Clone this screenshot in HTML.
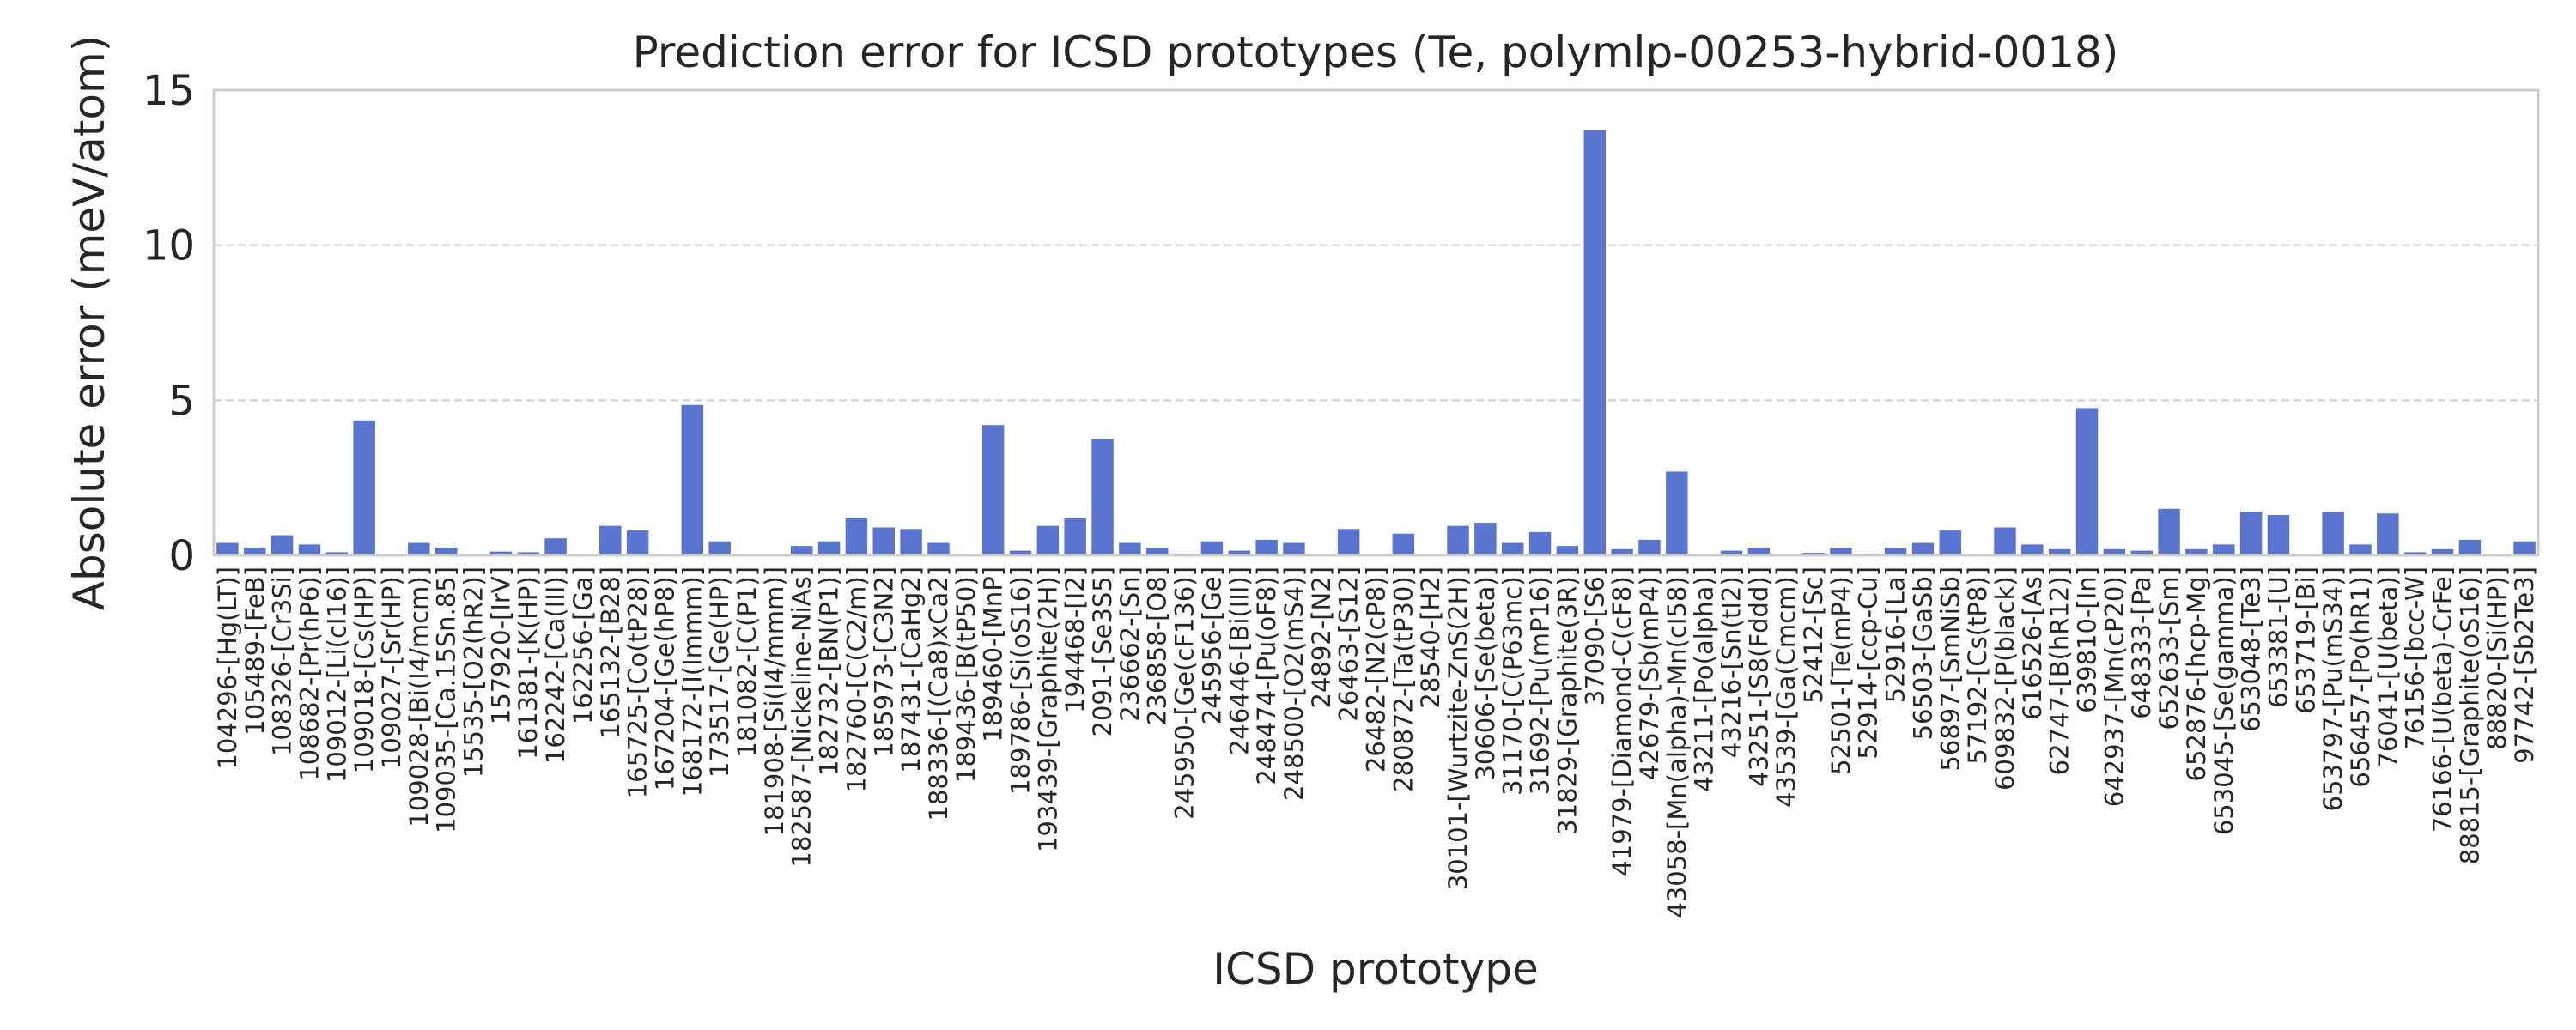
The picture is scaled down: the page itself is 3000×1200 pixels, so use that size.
<!DOCTYPE html>
<html><head><meta charset="utf-8"><style>
html,body{margin:0;padding:0;background:#fff;}
svg{display:block;font-family:"DejaVu Sans","Liberation Sans",sans-serif;}
</style></head><body>
<svg id="chart" width="3000" height="1200" viewBox="0 0 3000 1200" xmlns="http://www.w3.org/2000/svg">
<rect width="3000" height="1200" fill="#fff"/>
<text x="1602" y="78" text-anchor="middle" font-size="50" fill="#262626">Prediction error for ICSD prototypes (Te, polymlp-00253-hybrid-0018)</text>
<text transform="translate(121,376) rotate(-90)" text-anchor="middle" font-size="50" fill="#262626">Absolute error (meV/atom)</text>
<text x="1602" y="1146" text-anchor="middle" font-size="50" fill="#262626">ICSD prototype</text>
<g id="grid"></g><g id="bars"></g><g id="yticks"></g><g id="xticks"></g>
<rect x="249" y="105" width="2707" height="542" fill="none" stroke="#cccccc" stroke-width="3"/>
</svg>
<script>
const categories = ["104296-[Hg(LT)]","105489-[FeB]","108326-[Cr3Si]","108682-[Pr(hP6)]","109012-[Li(cI16)]","109018-[Cs(HP)]","109027-[Sr(HP)]","109028-[Bi(I4/mcm)]","109035-[Ca.15Sn.85]","15535-[O2(hR2)]","157920-[IrV]","161381-[K(HP)]","162242-[Ca(III)]","162256-[Ga]","165132-[B28]","165725-[Co(tP28)]","167204-[Ge(hP8)]","168172-[I(Immm)]","173517-[Ge(HP)]","181082-[C(P1)]","181908-[Si(I4/mmm)]","182587-[Nickeline-NiAs]","182732-[BN(P1)]","182760-[C(C2/m)]","185973-[C3N2]","187431-[CaHg2]","188336-[(Ca8)xCa2]","189436-[B(tP50)]","189460-[MnP]","189786-[Si(oS16)]","193439-[Graphite(2H)]","194468-[I2]","2091-[Se3S5]","236662-[Sn]","236858-[O8]","245950-[Ge(cF136)]","245956-[Ge]","246446-[Bi(III)]","248474-[Pu(oF8)]","248500-[O2(mS4)]","24892-[N2]","26463-[S12]","26482-[N2(cP8)]","280872-[Ta(tP30)]","28540-[H2]","30101-[Wurtzite-ZnS(2H)]","30606-[Se(beta)]","31170-[C(P63mc)]","31692-[Pu(mP16)]","31829-[Graphite(3R)]","37090-[S6]","41979-[Diamond-C(cF8)]","42679-[Sb(mP4)]","43058-[Mn(alpha)-Mn(cI58)]","43211-[Po(alpha)]","43216-[Sn(tI2)]","43251-[S8(Fddd)]","43539-[Ga(Cmcm)]","52412-[Sc]","52501-[Te(mP4)]","52914-[ccp-Cu]","52916-[La]","56503-[GaSb]","56897-[SmNiSb]","57192-[Cs(tP8)]","609832-[P(black)]","616526-[As]","62747-[B(hR12)]","639810-[In]","642937-[Mn(cP20)]","648333-[Pa]","652633-[Sm]","652876-[hcp-Mg]","653045-[Se(gamma)]","653048-[Te3]","653381-[U]","653719-[Bi]","653797-[Pu(mS34)]","656457-[Po(hR1)]","76041-[U(beta)]","76156-[bcc-W]","76166-[U(beta)-CrFe]","88815-[Graphite(oS16)]","88820-[Si(HP)]","97742-[Sb2Te3]"];
const errors = [0.4,0.25,0.65,0.35,0.1,4.35,0,0.4,0.25,0,0.12,0.1,0.55,0.02,0.95,0.8,0,4.85,0.45,0,0,0.3,0.45,1.2,0.9,0.85,0.4,0,4.2,0.15,0.95,1.2,3.75,0.4,0.25,0.05,0.45,0.15,0.5,0.4,0.03,0.85,0,0.7,0,0.95,1.05,0.4,0.75,0.3,13.7,0.2,0.5,2.7,0,0.15,0.25,0.02,0.08,0.25,0.05,0.25,0.4,0.8,0,0.9,0.35,0.2,4.75,0.2,0.15,1.5,0.2,0.35,1.4,1.3,0,1.4,0.35,1.35,0.1,0.2,0.5,0,0.45];
const yTicks = [0,5,10,15];
const NS="http://www.w3.org/2000/svg";
const L=249,R=2956,T=105,B=647,YMAX=15;
const y=v=>B-(v/YMAX)*(B-T);
const band=(R-L)/categories.length;
const x=i=>L+band*(i+0.5);
function mk(tag,attrs,parent){const e=document.createElementNS(NS,tag);for(const k in attrs)e.setAttribute(k,attrs[k]);parent.appendChild(e);return e;}
const grid=document.getElementById('grid'),bars=document.getElementById('bars'),yt=document.getElementById('yticks'),xt=document.getElementById('xticks');
yTicks.forEach(t=>{
  if(t>0&&t<YMAX){const g=mk('line',{x1:L,x2:R,y1:y(t),y2:y(t),stroke:'#cccccc','stroke-width':2,'stroke-dasharray':'9,5'},grid);
  
  }
  const tx=mk('text',{x:L-22,y:y(t)+17,'text-anchor':'end','font-size':48,fill:'#262626'},yt);
  tx.textContent=t;
  
  
});
categories.forEach((c,i)=>{
  const v=errors[i];const w=band*0.8;
  const r=mk('rect',{x:x(i)-w/2,y:y(v),width:w,height:B-y(v),fill:'#5975cf'},bars);
  
  
  const t=mk('text',{transform:`translate(${x(i)+10},660) rotate(-90)`,'text-anchor':'end','font-size':29,fill:'#262626'},xt);
  t.textContent=c;
  
  
});
</script>
</body></html>
